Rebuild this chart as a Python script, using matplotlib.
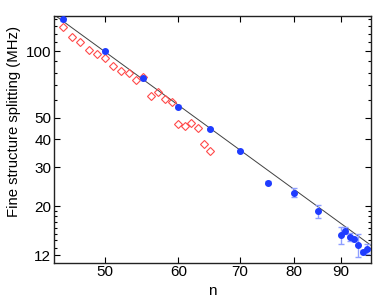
import numpy as np
import matplotlib
matplotlib.use('Agg')
import matplotlib.pyplot as plt
from matplotlib.ticker import FixedLocator, NullFormatter, ScalarFormatter

plt.rcParams['font.family'] = ['Liberation Sans', 'DejaVu Sans']
plt.rcParams['font.size'] = 11

# measured splittings (blue, with error bars)
blue_n = [45, 50, 55, 60, 65, 70, 75, 80, 85, 90, 91, 92, 93, 94, 95, 96]
blue_v = [139, 100, 75.5, 56.1, 44.5, 35.4, 25.5, 23.0, 18.9, 14.8, 15.5, 14.5, 14.2, 13.4, 12.4, 12.8]
blue_lo = [2.0, 1.5, 1.2, 0.8, 0.6, 0.5, 0.4, 1.0, 1.2, 1.3, 0.6, 0.6, 0.3, 1.6, 0.3, 0.7]
blue_hi = [2.0, 1.5, 1.2, 0.8, 0.6, 0.5, 0.4, 1.0, 1.3, 1.3, 0.6, 0.6, 0.3, 1.5, 0.3, 0.7]

# other data set (red diamonds)
red_n = [45, 46, 47, 48, 49, 50, 51, 52, 53, 54, 55, 56, 57, 58, 59, 60, 61, 62, 63, 64, 65]
red_v = [128.6, 115.3, 109.4, 101, 97.2, 93.3, 85.9, 81.5, 79.6, 74.0, 76.6, 62.9, 65.2, 60.8,
         58.9, 46.9, 45.9, 47.4, 45.0, 38.2, 35.4]

# n^-3 scaling line (end points)
line_n = [44, 97]
line_v = [146, 13.3]

xticks = [50, 60, 70, 80, 90]
yticks = [12, 20, 30, 40, 50, 100]
yminor = [11, 13, 14, 15, 16, 17, 18, 19, 60, 70, 80, 90, 110, 120, 130, 140]

fig = plt.figure(figsize=(3.82, 3.01), dpi=100)
ax = fig.add_axes([0.1414, 0.1272, 0.8296, 0.8196])

ax.plot(line_n, line_v, color='#404040', lw=0.7, zorder=1)
ax.plot(red_n, red_v, linestyle='none', marker='D', markersize=4.3, markerfacecolor='none',
        markeredgecolor='#ff4a4a', markeredgewidth=0.8, zorder=2)
ax.errorbar(blue_n, blue_v, yerr=[blue_lo, blue_hi], fmt='o', color='#1f3cff', markersize=4,
            ecolor='#8f9fff', elinewidth=1.0, capsize=2.5, capthick=1.0, zorder=3)

ax.set_xscale('log')
ax.set_yscale('log')
ax.set_xlim(44, 97)
ax.set_ylim(11.1, 144)

ax.xaxis.set_major_locator(FixedLocator(xticks))
ax.xaxis.set_minor_locator(FixedLocator([]))
ax.xaxis.set_major_formatter(ScalarFormatter())
ax.xaxis.set_minor_formatter(NullFormatter())
ax.yaxis.set_major_locator(FixedLocator(yticks))
ax.yaxis.set_minor_locator(FixedLocator(yminor))
ax.yaxis.set_major_formatter(ScalarFormatter())
ax.yaxis.set_minor_formatter(NullFormatter())

ax.tick_params(which='both', direction='in', top=True, right=True, width=0.8, pad=2, labelsize=11)
ax.tick_params(which='major', length=4)
ax.tick_params(which='minor', length=2.5)
for s in ax.spines.values():
    s.set_linewidth(1.0)
    s.set_color('#222222')

ax.set_xlabel('n', fontsize=11)
ax.set_ylabel('Fine structure splitting (MHz)', fontsize=10.7)
ax.xaxis.set_label_coords(0.5, -0.085)
ax.yaxis.set_label_coords(-0.105, 0.572)

fig.savefig('out.png', dpi=100)
